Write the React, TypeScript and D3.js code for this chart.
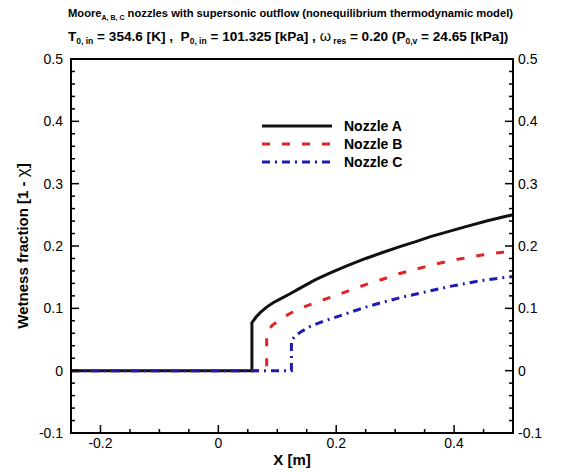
import * as d3 from 'd3';
import React from 'react';

// values: [x (m), wetness fraction]
const nozzleA: [number, number][] = [
  [-0.25, 0], [0.057, 0], [0.057, 0.077], [0.064, 0.086], [0.071, 0.093], [0.082, 0.102],
  [0.093, 0.109], [0.107, 0.116], [0.121, 0.123], [0.138, 0.132], [0.165, 0.146],
  [0.19, 0.157], [0.22, 0.169], [0.25, 0.18], [0.28, 0.19], [0.308, 0.199], [0.335, 0.207],
  [0.36, 0.215], [0.39, 0.223], [0.42, 0.231], [0.455, 0.24], [0.49, 0.248], [0.5, 0.25],
];
const nozzleB: [number, number][] = [
  [-0.25, 0], [0.082, 0], [0.082, 0.063], [0.092, 0.073], [0.105, 0.082], [0.12, 0.091],
  [0.135, 0.098], [0.15, 0.104], [0.167, 0.11], [0.2, 0.121], [0.25, 0.138], [0.28, 0.147],
  [0.308, 0.156], [0.336, 0.163], [0.364, 0.17], [0.392, 0.176], [0.42, 0.181],
  [0.45, 0.186], [0.482, 0.19], [0.5, 0.193],
];
const nozzleC: [number, number][] = [
  [-0.25, 0], [0.124, 0], [0.124, 0.049], [0.131, 0.056], [0.141, 0.063], [0.156, 0.071],
  [0.172, 0.077], [0.19, 0.083], [0.206, 0.088], [0.228, 0.095], [0.25, 0.102],
  [0.28, 0.11], [0.308, 0.117], [0.336, 0.123], [0.364, 0.129], [0.392, 0.135],
  [0.42, 0.14], [0.45, 0.145], [0.482, 0.149], [0.5, 0.151],
];

const seriesNames = ['Nozzle A', 'Nozzle B', 'Nozzle C'];
const seriesColors = ['#111111', '#e02424', '#1c1cb4'];
const seriesDash = ['none', '8,12', '8,5,2,5'];

const xTicks = [-0.2, 0, 0.2, 0.4];
const yTicks = [-0.1, 0, 0.1, 0.2, 0.3, 0.4, 0.5];

const width = 580;
const height = 472;
const margin = { left: 71, right: 67, top: 59, bottom: 39 };
const font = 'Liberation Sans, Arial, Helvetica, sans-serif';

function App() {
  const x = d3.scaleLinear().domain([-0.25, 0.5]).range([margin.left, width - margin.right]);
  const y = d3.scaleLinear().domain([-0.1, 0.5]).range([height - margin.bottom, margin.top]);
  const line = d3.line<[number, number]>().x(d => x(d[0])).y(d => y(d[1]));

  const [x0, x1] = x.range();
  const [y0, y1] = y.range();

  const xMinor = d3.range(-0.25, 0.5001, 0.05).map(v => +v.toFixed(3));
  const yMinor = d3.range(-0.1, 0.5001, 0.02).map(v => +v.toFixed(3));
  const fmt = (v: number) => (Math.abs(v) < 1e-9 ? '0' : String(+v.toFixed(2)));

  const data = [nozzleA, nozzleB, nozzleC];

  return (
    <svg width={width} height={height} style={{ position: 'absolute', left: 0, top: 0 }} fontFamily={font}>
      <rect width={width} height={height} fill="#fff" />

      {/* title */}
      <text x={68} y={17} fontSize={11.2} fontWeight="bold" style={{ whiteSpace: 'pre' }}>
        Moore<tspan fontSize={7} dy={3}>A, B, C</tspan>
        <tspan dy={-3}> nozzles with supersonic outflow (nonequilibrium thermodynamic model)</tspan>
      </text>
      <text x={68} y={41} fontSize={13.6} fontWeight="bold" style={{ whiteSpace: 'pre' }}>
        T<tspan fontSize={8.5} dy={3}>0, in</tspan>
        <tspan dy={-3}> = 354.6 [K] ,  P</tspan>
        <tspan fontSize={8.5} dy={3}>0, in</tspan>
        <tspan dy={-3}> = 101.325 [kPa] , </tspan>
        <tspan fontWeight="normal" fontSize={14.5}>ω</tspan>
        <tspan fontSize={8.5} dy={3}> res</tspan>
        <tspan dy={-3}> = 0.20 (P</tspan>
        <tspan fontSize={8.5} dy={3}>0,v</tspan>
        <tspan dy={-3}> = 24.65 [kPa])</tspan>
      </text>

      {/* series */}
      {data.map((d, i) => (
        <path key={i} d={line(d) || ''} fill="none" stroke={seriesColors[i]}
          strokeWidth={3} strokeDasharray={seriesDash[i]} />
      ))}

      {/* frame */}
      <rect x={x0} y={y1} width={x1 - x0} height={y0 - y1} fill="none" stroke="#000" strokeWidth={2} />

      {/* x ticks (bottom) */}
      {xMinor.map(v => {
        const major = xTicks.some(t => Math.abs(t - v) < 1e-6);
        return <line key={'xm' + v} x1={x(v)} x2={x(v)} y1={y0} y2={y0 - (major ? 8 : 4)} stroke="#000" strokeWidth={1.5} />;
      })}
      {xTicks.map(v => (
        <text key={'xt' + v} x={x(v)} y={448} fontSize={14} textAnchor="middle">{fmt(v)}</text>
      ))}

      {/* y ticks (left and right) */}
      {yMinor.map(v => {
        const major = yTicks.some(t => Math.abs(t - v) < 1e-6);
        const len = major ? 8 : 4;
        return (
          <g key={'ym' + v}>
            <line x1={x0} x2={x0 + len} y1={y(v)} y2={y(v)} stroke="#000" strokeWidth={1.5} />
            <line x1={x1} x2={x1 - len} y1={y(v)} y2={y(v)} stroke="#000" strokeWidth={1.5} />
          </g>
        );
      })}
      {yTicks.map(v => (
        <g key={'yt' + v}>
          <text x={x0 - 8} y={y(v) + 5} fontSize={14} textAnchor="end">{fmt(v)}</text>
          <text x={x1 + 5} y={y(v) + 5} fontSize={14} textAnchor="start">{fmt(v)}</text>
        </g>
      ))}

      {/* axis titles */}
      <text x={(x0 + x1) / 2} y={465} fontSize={15} fontWeight="bold" textAnchor="middle">X [m]</text>
      <text transform={`translate(28,${(y0 + y1) / 2}) rotate(-90)`} fontSize={15} fontWeight="bold" textAnchor="middle">
        Wetness fraction [1 - <tspan fontWeight="normal" fontSize={17}>χ</tspan>]
      </text>

      {/* legend */}
      {seriesNames.map((n, i) => (
        <g key={n} transform={`translate(262,${126 + i * 18})`}>
          <line x1={0} x2={70} y1={0} y2={0} stroke={seriesColors[i]} strokeWidth={3} strokeDasharray={seriesDash[i]} />
          <text x={82} y={5} fontSize={14} fontWeight="bold">{n}</text>
        </g>
      ))}
    </svg>
  );
}

export default App;
